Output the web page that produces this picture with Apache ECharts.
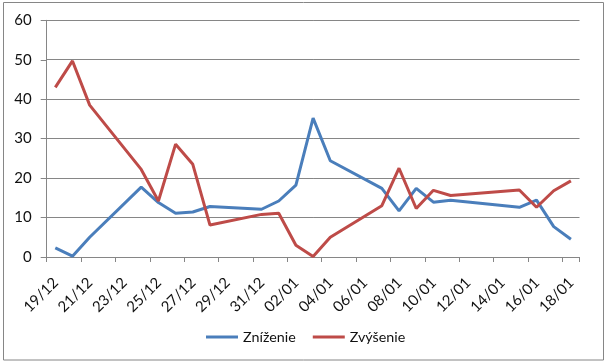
<!DOCTYPE html>
<html>
<head>
<meta charset="utf-8">
<script src="https://cdn.jsdelivr.net/npm/echarts@6/dist/echarts.min.js"></script>
<style>
html,body{margin:0;padding:0;background:#fff;}
#chart{width:608px;height:364px;}
</style>
</head>
<body>
<div id="chart"></div>
<script>
// Categories: one per day, 19/12 .. 18/01
const categories = [
  '19/12','20/12','21/12','22/12','23/12','24/12','25/12','26/12','27/12','28/12',
  '29/12','30/12','31/12','01/01','02/01','03/01','04/01','05/01','06/01','07/01',
  '08/01','09/01','10/01','11/01','12/01','13/01','14/01','15/01','16/01','17/01','18/01'
];
// Zníženie (blue); null = no value that day
const znizenie = [
  2.3, 0.2, 5.0, null, null, 17.7, 13.8, 11.1, 11.4, 12.8,
  null, null, 12.1, 14.2, 18.2, 35.2, 24.4, null, null, 17.4,
  11.7, 17.4, 13.9, 14.4, null, null, null, 12.6, 14.4, 7.7, 4.5
];
// Zvýšenie (red)
const zvysenie = [
  43.0, 49.7, 38.5, null, null, 22.2, 14.2, 28.6, 23.5, 8.1,
  null, null, 10.8, 11.1, 3.0, 0.1, 5.0, null, null, 13.0,
  22.5, 12.3, 16.9, 15.6, null, null, null, 17.0, 12.6, 16.8, 19.3
];
const seriesNames = ['Zníženie', 'Zvýšenie'];
const yTicks = [0, 10, 20, 30, 40, 50, 60];

const FONT = 'Lato';
const chart = echarts.init(document.getElementById('chart'), null, {renderer: 'canvas'});
chart.setOption({
  animation: false,
  backgroundColor: '#ffffff',
  textStyle: {fontFamily: FONT},
  graphic: [{
    type: 'rect', silent: true, z: -1,
    shape: {x: 3.5, y: 2.5, width: 600, height: 357.5},
    style: {fill: 'none', stroke: '#868686', lineWidth: 1}
  }],
  grid: {left: 46.7, right: 28.5, top: 20.3, bottom: 107, containLabel: false},
  legend: {
    data: seriesNames,
    left: 201, top: 325,
    icon: 'rect', itemWidth: 32, itemHeight: 3, itemGap: 17,
    textStyle: {fontFamily: FONT, fontSize: 14.3, color: '#111'}
  },
  xAxis: {
    type: 'category',
    data: categories,
    boundaryGap: true,
    axisLine: {show: true, lineStyle: {color: '#868686', width: 1}},
    axisTick: {show: true, interval: 1, length: 5, lineStyle: {color: '#868686'}},
    axisLabel: {interval: 1, rotate: 45, margin: 13, align: 'right', verticalAlign: 'top',
      padding: [0, 7, 0, 0], fontFamily: FONT, fontSize: 15, color: '#111'},
    splitLine: {show: false}
  },
  yAxis: {
    type: 'value',
    min: yTicks[0], max: yTicks[yTicks.length - 1], interval: 10,
    axisLine: {show: true, lineStyle: {color: '#868686', width: 1}},
    axisTick: {show: true, length: 6, lineStyle: {color: '#868686'}},
    axisLabel: {margin: 15, fontFamily: FONT, fontSize: 15, color: '#111'},
    splitLine: {show: true, lineStyle: {color: '#868686', width: 1}}
  },
  series: [
    {name: seriesNames[0], type: 'line', data: znizenie, connectNulls: true,
     symbol: 'none', color: '#4A7EBB', lineStyle: {width: 3, color: '#4A7EBB'}},
    {name: seriesNames[1], type: 'line', data: zvysenie, connectNulls: true,
     symbol: 'none', color: '#BE4B48', lineStyle: {width: 3, color: '#BE4B48'}}
  ]
});
</script>
</body>
</html>
